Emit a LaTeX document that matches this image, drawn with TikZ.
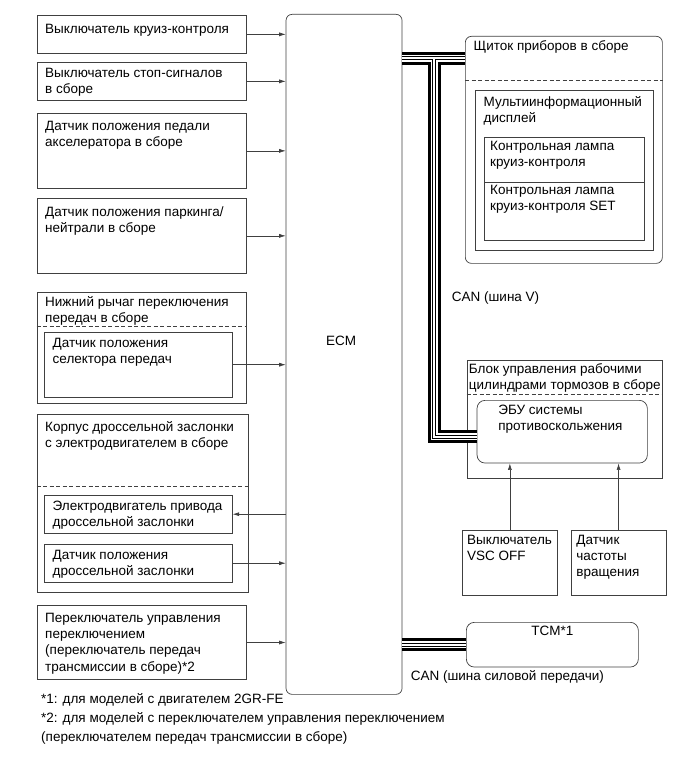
\documentclass[tikz,border=0pt]{standalone}
\usepackage{fontspec}
\setmainfont{Liberation Sans}
\usetikzlibrary{arrows.meta}
% CAN bus: two heavy wires with a twisted pair between them
\newcommand\canbus[1]{%
  \draw[line width=13pt] #1;
  \draw[line width=7pt, white] #1;
  \draw[line width=4pt] #1;
  \draw[line width=2pt, white] #1;}
\begin{document}
\begin{tikzpicture}[x=1pt, y=-1pt, font=\fontsize{13.5}{16.2}\selectfont,
    blk/.style={draw=black!75, line width=0.7pt, anchor=north west, inner sep=0pt},
    rblk/.style={blk, rounded corners=6pt},
    txt/.style={anchor=north west, align=left, inner sep=0pt, xshift=8.5pt, yshift=-6pt},
    tl/.style={label={[txt]north west:#1}},
    arr/.style={draw=black!75, line width=0.6pt, -{Latex[length=6.5pt,width=4pt]}},
    sep/.style={draw=black!75, line width=0.7pt, dash pattern=on 4pt off 2.5pt}]
    \useasboundingbox (0,0) rectangle (690,759);
    % inputs on the left
    \node[blk, minimum width=209, minimum height=38,
        label={[txt, yshift=-3pt]north west:Выключатель круиз-контроля}] (cruise) at (36.5,15) {};
    \node[blk, minimum width=209, minimum height=38, tl={Выключатель стоп-сигналов\\в сборе}] (stopsw) at (36.5,62) {};
    \node[blk, minimum width=209, minimum height=75,
        label={[txt, yshift=-2pt]north west:{Датчик положения педали\\акселератора в сборе}}] (accel) at (36.5,113) {};
    \node[blk, minimum width=209, minimum height=74,
        label={[txt, yshift=-2pt]north west:{Датчик положения паркинга/\\нейтрали в сборе}}] (park) at (36.5,198.5) {};
    \node[blk, minimum width=209, minimum height=111,
        label={[txt, yshift=1.5pt]north west:{Нижний рычаг переключения\\передач в сборе}}] (lever) at (36.5,291.7) {};
    \node[blk, minimum width=188, minimum height=64.7, tl={Датчик положения\\селектора передач}] (gearsens) at (44,332) {};
    \node[blk, minimum width=211, minimum height=177.7,
        label={[txt, yshift=-1.5pt]north west:{Корпус дроссельной заслонки\\с электродвигателем в сборе}}] (throttle) at (36.5,414) {};
    \node[blk, minimum width=188, minimum height=37.7, tl={Электродвигатель привода\\дроссельной заслонки}] (tmotor) at (44,495) {};
    \node[blk, minimum width=188, minimum height=37.7, tl={Датчик положения\\дроссельной заслонки}] (tsens) at (44,544) {};
    \node[blk, minimum width=209, minimum height=74.3,
        label={[txt, yshift=-2pt]north west:{Переключатель управления\\переключением\\(переключатель передач\\трансмиссии в сборе)*2}}] (shifter) at (36.5,605) {};
    \draw[sep] ([yshift=-35pt]lever.north west) -- ([yshift=-35pt]lever.north east);
    \draw[sep] ([yshift=-72.7pt]throttle.north west) -- ([yshift=-72.7pt]throttle.north east);

    % engine ECU
    \node[rblk, minimum width=116, minimum height=680] (ecm) at (285.7,14) {};
    \node (ecmt) at (341,341) {ECM};

    % outputs on the right
    \node[rblk, minimum width=197, minimum height=227,
        label={[txt, yshift=1.5pt]north west:Щиток приборов в сборе}] (cluster) at (465,36) {};
    \node[blk, minimum width=178, minimum height=159.7, tl={Мультиинформационный\\дисплей}] (mid) at (475,90) {};
    \node[blk, minimum width=160, minimum height=45,
        label={[txt, xshift=-2.5pt, yshift=2pt]north west:{Контрольная лампа\\круиз-контроля}}] (lampa) at (484,137) {};
    \node[blk, minimum width=160, minimum height=58,
        label={[txt, xshift=-2.5pt, yshift=3pt]north west:{Контрольная лампа\\круиз-контроля SET}}] (lampb) at (484,182) {};
    \draw[sep] ([yshift=-44.7pt]cluster.north west) -- ([yshift=-44.7pt]cluster.north east);

    \node[blk, minimum width=195, minimum height=118,
        label={[txt, xshift=-6.5pt, yshift=3pt]north west:{Блок управления рабочими\\цилиндрами тормозов в сборе}}] (brake) at (466.7,360) {};
    \node[rblk, rounded corners=8pt, minimum width=170.3, minimum height=62.7,
        label={[txt, xshift=13pt, yshift=1pt]north west:{ЭБУ системы\\противоскольжения}}] (ecu) at (476.7,400) {};
    \draw[sep] ([yshift=-34pt]brake.north west) -- ([yshift=-34pt]brake.north east);
    \node[blk, minimum width=95, minimum height=65,
        label={[txt, xshift=-3.5pt, yshift=1pt]north west:{Выключатель\\VSC OFF}}] (vsc) at (462,530) {};
    \node[blk, minimum width=95, minimum height=65,
        label={[txt, xshift=-3pt, yshift=1pt]north west:{Датчик\\частоты\\вращения}}] (speed) at (570.7,530) {};

    \node[rblk, rounded corners=8pt, minimum width=172, minimum height=44.7,
        label={[anchor=north, inner sep=0pt, yshift=-4pt]north:TCM*1}] (tcm) at (466,622) {};

    % signal lines
    \draw[arr] (cruise.east) -- (cruise.east -| ecm.west);
    \draw[arr] (stopsw.east) -- (stopsw.east -| ecm.west);
    \draw[arr] (accel.east) -- (accel.east -| ecm.west);
    \draw[arr] (park.east) -- (park.east -| ecm.west);
    \draw[arr] (gearsens.east) -- (gearsens.east -| ecm.west);
    \draw[arr] (ecm.west |- tmotor.east) -- (tmotor.east);
    \draw[arr] (tsens.east) -- (tsens.east -| ecm.west);
    \draw[arr] (shifter.east) -- (shifter.east -| ecm.west);
    \draw[arr] (vsc.north) -- (vsc.north |- ecu.south);
    \draw[arr] (speed.north) -- (speed.north |- ecu.south);

    % CAN
    \coordinate (cv) at (434,58.5);
    \coordinate (cb) at (434,436.5);
    \canbus{(ecm.east |- cv) -- (cv -| cluster.west) (cv) -- (cb) -- (cb -| ecu.west)}
    \canbus{(ecm.east |- tcm.west) -- (tcm.west)}
    \node[anchor=west, inner sep=0pt] (canv) at (451.7,298) {CAN (шина V)};
    \node[anchor=west, inner sep=0pt] (canp) at (410.6,677.3) {CAN (шина силовой передачи)};

    % notes
    \node[anchor=west, inner sep=0pt] (note1) at (41,700) {*1: для моделей с двигателем 2GR-FE};
    \node[anchor=north west, align=left, inner sep=0pt, font=\fontsize{13.5}{18.7}\selectfont] (note2) at (41,712.5)
        {*2: для моделей с переключателем управления переключением\\(переключателем передач трансмиссии в сборе)};
\end{tikzpicture}
\end{document}
